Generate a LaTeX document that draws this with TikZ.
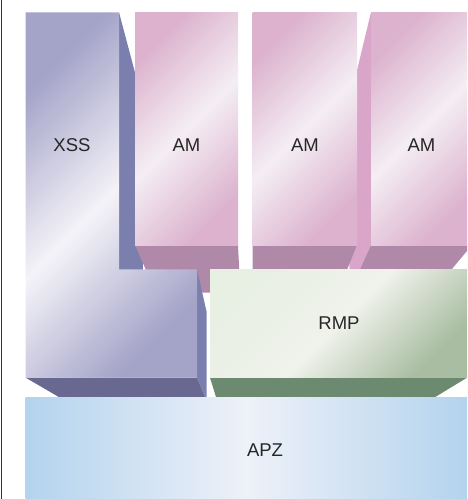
\documentclass[tikz,border=0pt]{standalone}
\usepackage{fontspec}
\setmainfont{Liberation Sans}
\usetikzlibrary{calc}
\definecolor{xssdark}{HTML}{A4A3C8}
\definecolor{xsslight}{HTML}{F4F3F8}
\definecolor{xssside}{HTML}{7B7FAE}
\definecolor{xssbottom}{HTML}{686890}
\definecolor{amdark}{HTML}{DCB2CE}
\definecolor{amlight}{HTML}{F4EEF3}
\definecolor{ambottom}{HTML}{B088A8}
\definecolor{amside}{HTML}{D9A6C9}
\definecolor{rmplight}{HTML}{E8EFE3}
\definecolor{rmpmid}{HTML}{F0F2EB}
\definecolor{rmpdark}{HTML}{A8BDA2}
\definecolor{rmpbottom}{HTML}{6B8A70}
\definecolor{apzdark}{HTML}{B3D3EE}
\definecolor{apzlight}{HTML}{EEF1F8}
\begin{document}
\begin{tikzpicture}[x=1pt, y=-1pt,
    boxtext/.style={font=\fontsize{18.5}{22}\selectfont, text=black!85},
    diagshade/.style 2 args={top color=#1, bottom color=#1, middle color=#2, shading angle=45}]
    \useasboundingbox (0,0) rectangle (467,499);
    \coordinate (V) at (251,509);
    \begin{scope}
        \clip (0,0) rectangle (467,499);
        % XSS column side, behind the AM blocks
        \fill[xssside] (119,12.3) -- ($(119,12.3)!.18!(V)$) -- ($(119,269.3)!.18!(V)$) -- (119,269.3) -- cycle;
        % AM blocks
        \fill[amside] (371,12.3) -- ($(371,12.3)!.18!(V)$) -- ($(371,245)!.18!(V)$) -- (371,245) -- cycle;
        \foreach \l/\r in {135/238, 252.7/357, 371/472} {
            \fill[ambottom] (\l,245) -- (\r,245) -- ($(\r,245)!.18!(V)$) -- ($(\l,245)!.18!(V)$) -- cycle;
            \shade[diagshade={amdark}{amlight}] (\l,12.3) rectangle (\r,245);
        }
        % XSS
        \fill[xssside] (197,269.3) -- ($(197,269.3)!.18!(V)$) -- ($(197,377.7)!.18!(V)$) -- (197,377.7) -- cycle;
        \fill[xssbottom] (25.7,377.7) -- (197,377.7) -- ($(197,377.7)!.18!(V)$) -- ($(25.7,377.7)!.18!(V)$) -- cycle;
        \shade[diagshade={xssdark}{xsslight}] (25.7,12.3) -- (119,12.3) -- (119,269.3) -- (197,269.3) -- (197,377.7) -- (25.7,377.7) -- cycle;
        % RMP
        \fill[rmpbottom] (210,377.7) -- (467,377.7) -- ($(467,377.7)!.18!(V)$) -- ($(210,377.7)!.18!(V)$) -- cycle;
        \shade[top color=rmplight, bottom color=rmpdark, middle color=rmpmid, shading angle=45] (210,269.3) rectangle (467,377.7);
        % APZ
        \shade[left color=apzdark, right color=apzdark, middle color=apzlight] (25.7,397.7) rectangle (467,499);
    \end{scope}
    \draw[black!80, line width=1.3pt] (1.5,0) -- (1.5,499);
    \node[boxtext] (xss) at (72,145) {XSS};
    \foreach \x/\n in {186.5/am1, 305/am2, 421.5/am3}
        \node[boxtext] (\n) at (\x,145) {AM};
    \node[boxtext] (rmp) at (339,323.5) {RMP};
    \node[boxtext] (apz) at (265,450) {APZ};
\end{tikzpicture}
\end{document}
